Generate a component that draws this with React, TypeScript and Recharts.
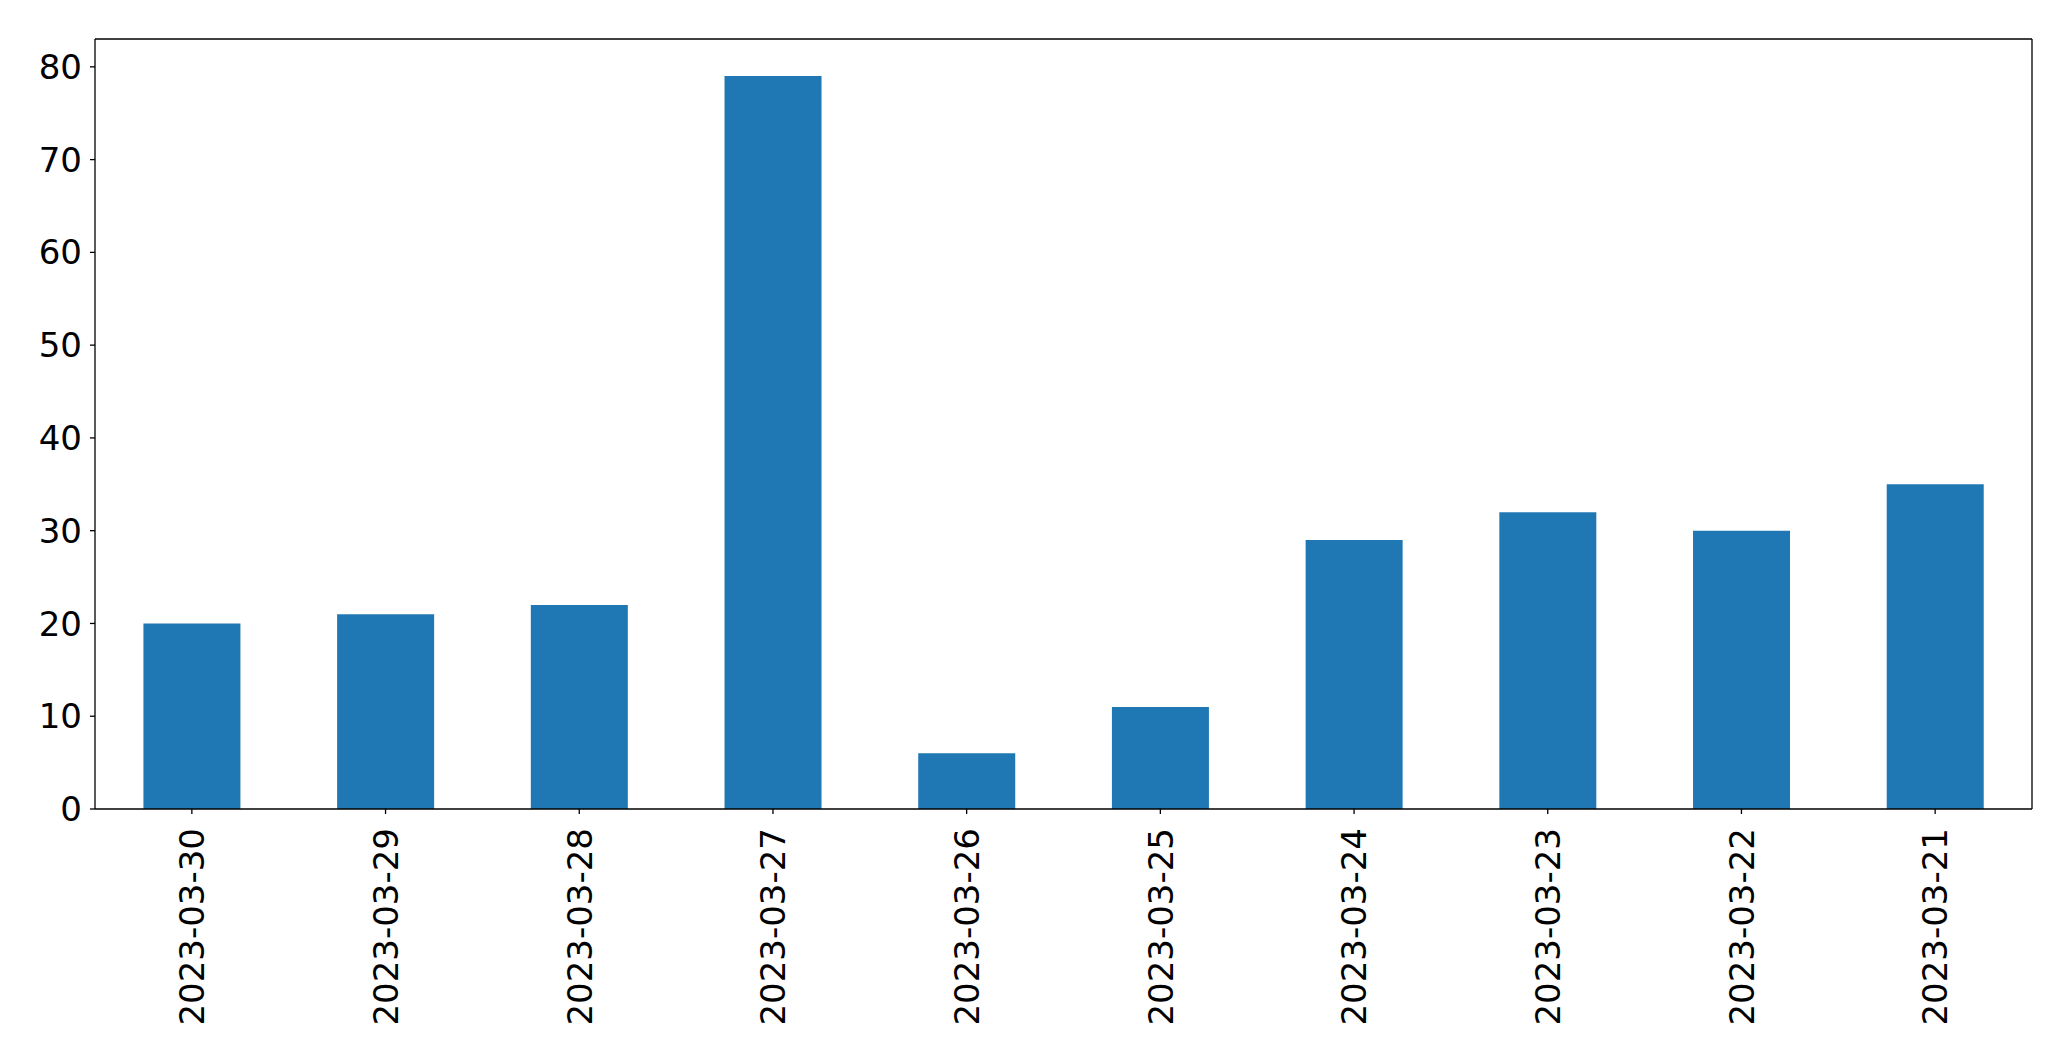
import React from "react";
import { BarChart, Bar, XAxis, YAxis } from "recharts";

const categories = [
  "2023-03-30",
  "2023-03-29",
  "2023-03-28",
  "2023-03-27",
  "2023-03-26",
  "2023-03-25",
  "2023-03-24",
  "2023-03-23",
  "2023-03-22",
  "2023-03-21",
];
const values = [20, 21, 22, 79, 6, 11, 29, 32, 30, 35];
const yTicks = [0, 10, 20, 30, 40, 50, 60, 70, 80];

const data = categories.map((c, i) => ({ date: c, value: values[i] }));

const FONT = "'DejaVu Sans', sans-serif";

const XTick = (props: any) => {
  const { x, y, payload } = props;
  return (
    <text
      x={0}
      y={0}
      transform={`translate(${x}, ${y + 12}) rotate(-90)`}
      textAnchor="end"
      dy="0.36em"
      fontSize={34}
      fontFamily={FONT}
      fill="#000"
    >
      {payload.value}
    </text>
  );
};

const line = { stroke: "#000", strokeWidth: 1.3 };

export default function App() {
  return (
    <div style={{ position: "absolute", left: 0, top: 0, background: "#fff" }}>
      <BarChart
        width={2071}
        height={1061}
        data={data}
        margin={{ top: 38, right: 38, left: 0, bottom: 0 }}
        barCategoryGap="25%"
      >
        <XAxis
          dataKey="date"
          interval={0}
          height={252}
          tickSize={5}
          tickLine={line}
          axisLine={line}
          tick={<XTick />}
        />
        <XAxis
          xAxisId="top"
          dataKey="date"
          orientation="top"
          height={1}
          tick={false}
          tickLine={false}
          axisLine={line}
        />
        <YAxis
          width={95}
          domain={[0, 83]}
          ticks={yTicks}
          interval={0}
          tickSize={5}
          tickMargin={8}
          tickLine={line}
          axisLine={line}
          tick={{ fontSize: 34, fontFamily: FONT, fill: "#000" }}
        />
        <YAxis
          yAxisId="right"
          orientation="right"
          width={1}
          domain={[0, 83]}
          tick={false}
          tickLine={false}
          axisLine={line}
        />
        <Bar dataKey="value" fill="#1f77b4" isAnimationActive={false} />
      </BarChart>
    </div>
  );
}
